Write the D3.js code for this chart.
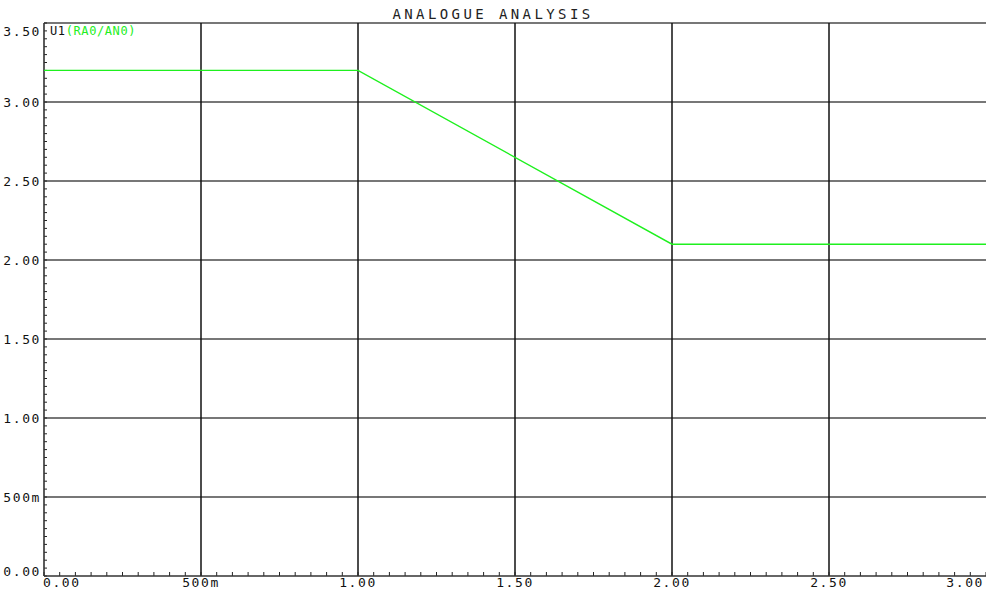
<!DOCTYPE html>
<html>
<head>
<meta charset="utf-8">
<script src="https://cdn.jsdelivr.net/npm/d3@7"></script>
<style>
  html, body { margin: 0; padding: 0; background: #fff; }
  svg text { font-family: "DejaVu Sans Mono", "Liberation Mono", monospace; }
</style>
</head>
<body>
<svg id="chart" width="986" height="592"></svg>
<script>
// Sweep trace: time (s) against voltage (V)
const sweepTime = [0, 1.00, 2.00, 3.00];
const traceVolts = [3.20, 3.20, 2.10, 2.10];
const xTickValues = [0, 0.5, 1.0, 1.5, 2.0, 2.5, 3.0];
const xTickLabels = ["0.00", "500m", "1.00", "1.50", "2.00", "2.50", "3.00"];
const yTickValues = [0, 0.5, 1.0, 1.5, 2.0, 2.5, 3.0, 3.5];
const yTickLabels = ["0.00", "500m", "1.00", "1.50", "2.00", "2.50", "3.00", "3.50"];
const chartTitle = "ANALOGUE ANALYSIS";
const traceName = "U1";
const tracePin = "(RA0/AN0)";

const W = 986, H = 592;
const m = { left: 44, right: 0, top: 23, bottom: 16 };
const svg = d3.select("#chart");

const x = d3.scaleLinear().domain([0, 3]).range([m.left, W - m.right]);
const y = d3.scaleLinear().domain([0, 3.5]).range([H - m.bottom, m.top]);

// Major grid
const grid = svg.append("g");
grid.selectAll("line.h").data(yTickValues.filter(v => v > 0)).join("line")
  .attr("x1", m.left).attr("x2", W)
  .attr("y1", d => y(d)).attr("y2", d => y(d))
  .attr("stroke", "#4a4a4a").attr("stroke-width", 1.6);
grid.selectAll("line.v").data(xTickValues.filter(v => v > 0 && v < 3)).join("line")
  .attr("x1", d => x(d)).attr("x2", d => x(d))
  .attr("y1", m.top).attr("y2", H - m.bottom)
  .attr("stroke", "#111").attr("stroke-width", 1.5);

// Minor ticks along the axes
const xMinor = d3.range(0, 3.0001, 0.05);
const yMinor = d3.range(0, 3.5001, 0.05);
grid.selectAll("line.xm").data(xMinor).join("line")
  .attr("x1", d => x(d)).attr("x2", d => x(d))
  .attr("y1", H - m.bottom).attr("y2", H - m.bottom - 4)
  .attr("stroke", "#222").attr("stroke-width", 1);
grid.selectAll("line.ym").data(yMinor).join("line")
  .attr("x1", m.left).attr("x2", m.left + 3)
  .attr("y1", d => y(d)).attr("y2", d => y(d))
  .attr("stroke", "#222").attr("stroke-width", 1);

// Axis frame
svg.append("line").attr("x1", m.left).attr("x2", m.left)
  .attr("y1", m.top).attr("y2", H - m.bottom)
  .attr("stroke", "#333").attr("stroke-width", 1.6);
svg.append("line").attr("x1", m.left).attr("x2", W)
  .attr("y1", H - m.bottom).attr("y2", H - m.bottom)
  .attr("stroke", "#333").attr("stroke-width", 1.6);

// Tick labels
svg.selectAll("text.xl").data(xTickValues).join("text")
  .attr("x", (d, i) => i === 0 ? x(d) - 1 : (i === xTickValues.length - 1 ? x(d) - 2 : x(d)))
  .attr("y", 587)
  .attr("text-anchor", (d, i) => i === 0 ? "start" : (i === xTickValues.length - 1 ? "end" : "middle"))
  .attr("font-size", 13).attr("letter-spacing", 1.6).attr("fill", "#111")
  .text((d, i) => xTickLabels[i]);

svg.selectAll("text.yl").data(yTickValues).join("text")
  .attr("x", 41)
  .attr("y", d => {
    const p = y(d) + 5;
    return Math.min(Math.max(p, 36), H - m.bottom);
  })
  .attr("text-anchor", "end")
  .attr("font-size", 13).attr("letter-spacing", 1.6).attr("fill", "#111")
  .text((d, i) => yTickLabels[i]);

// Title
svg.append("text").attr("x", 493).attr("y", 19).attr("text-anchor", "middle")
  .attr("font-size", 14).attr("letter-spacing", 3.4).attr("fill", "#222")
  .text(chartTitle);

// Trace legend
const leg = svg.append("text").attr("x", 50).attr("y", 35)
  .attr("font-size", 12).attr("letter-spacing", 0.6);
leg.append("tspan").attr("fill", "#111").text(traceName);
leg.append("tspan").attr("fill", "#22ee22").text(tracePin);

// Trace
const line = d3.line().x(d => x(d[0])).y(d => y(d[1]));
svg.append("path")
  .datum(sweepTime.map((t, i) => [t, traceVolts[i]]))
  .attr("d", line)
  .attr("fill", "none").attr("stroke", "#1ef01e").attr("stroke-width", 1.4);
</script>
</body>
</html>
